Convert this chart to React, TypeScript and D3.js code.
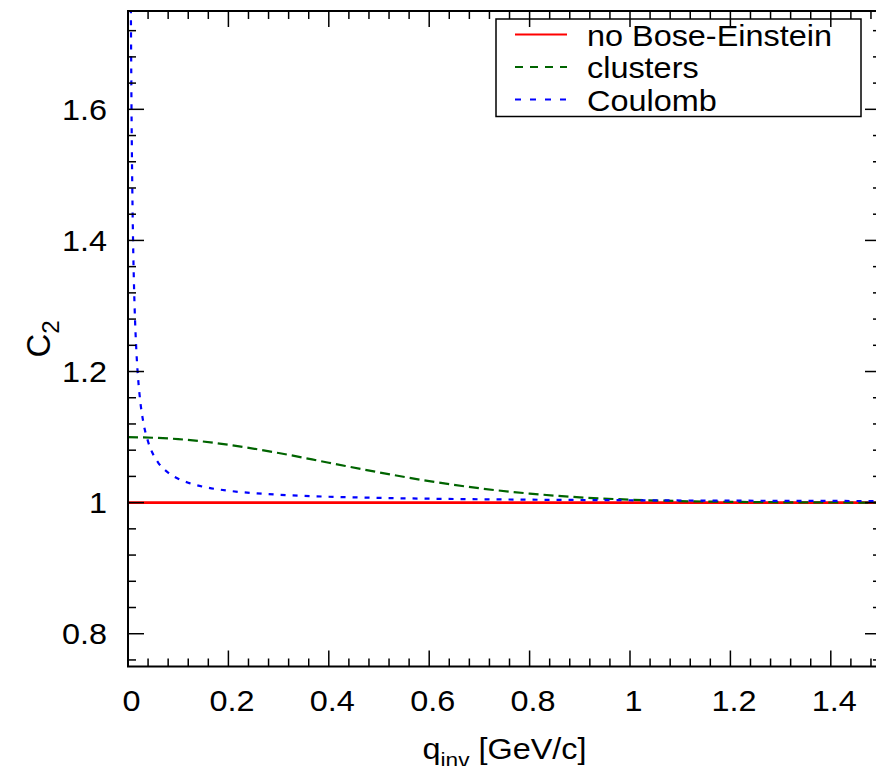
import React from 'react';
import * as d3 from 'd3';

const xTickValues = [0, 0.2, 0.4, 0.6, 0.8, 1.0, 1.2, 1.4];
const xTickLabels = ['0', '0.2', '0.4', '0.6', '0.8', '1', '1.2', '1.4'];
const yTickValues = [0.8, 1.0, 1.2, 1.4, 1.6];
const yTickLabels = ['0.8', '1', '1.2', '1.4', '1.6'];
const seriesNames = ['no Bose-Einstein', 'clusters', 'Coulomb'];

const noBEq = [0, 0.5, 1.0, 1.5];
const noBEc = [1, 1, 1, 1];

const clustersQ = [0, 0.1, 0.2, 0.3, 0.4, 0.5, 0.6, 0.7, 0.8, 0.9, 1.0, 1.1, 1.2, 1.3, 1.4, 1.5];
const clustersC = [1.1, 1.0969, 1.0883, 1.0757, 1.0609, 1.0461, 1.0328, 1.0219, 1.0138, 1.0081, 1.0045, 1.0023, 1.0012, 1.0005, 1.0002, 1.0001];

const coulombQ = [0.004, 0.005, 0.006, 0.007, 0.008, 0.009, 0.01, 0.012, 0.014, 0.016, 0.018, 0.02, 0.025, 0.03, 0.04, 0.05, 0.06, 0.08, 0.1, 0.12, 0.15, 0.2, 0.25, 0.3, 0.4, 0.5, 0.6, 0.8, 1.0, 1.2, 1.5];
const coulombC = [2.157, 1.887, 1.717, 1.601, 1.517, 1.453, 1.403, 1.33, 1.279, 1.242, 1.213, 1.191, 1.151, 1.125, 1.093, 1.0737, 1.0612, 1.0457, 1.0364, 1.0303, 1.0242, 1.0181, 1.0145, 1.012, 1.009, 1.0072, 1.006, 1.0045, 1.0036, 1.003, 1.0024];

const W = 876;
const H = 766;
const L = 128;
const R = 881;
const T = 11;
const B = 666.5;
const SX = 1.08;
const FS = 30;
const FONT = "'Liberation Sans', Arial, Helvetica, sans-serif";

export default function App() {
  const x = d3.scaleLinear().domain([0, 1.5]).range([L, R]);
  const y = d3.scaleLinear().domain([0.75, 1.75]).range([B, T]);
  const line = d3
    .line<[number, number]>()
    .x((d) => x(d[0]))
    .y((d) => y(d[1]))
    .curve(d3.curveMonotoneX);

  const redPts = noBEq.map((q, i) => [q, noBEc[i]] as [number, number]);
  const greenPts = clustersQ.map((q, i) => [q, clustersC[i]] as [number, number]);
  const bluePts = coulombQ.map((q, i) => [q, coulombC[i]] as [number, number]);

  const xMinor = d3.range(0, 38).map((i) => i * 0.04).filter((v) => v <= 1.5);
  const yMinor = d3.range(19, 44).map((i) => i * 0.04).filter((v) => v >= 0.75 && v <= 1.75);
  const isMajor = (v: number) => Math.abs(v / 0.2 - Math.round(v / 0.2)) < 1e-6;

  const styles = [
    { color: '#ff0000', dash: undefined as string | undefined },
    { color: '#006400', dash: '10,5' },
    { color: '#0000ff', dash: '5,7' },
  ];

  return (
    <div style={{ position: 'absolute', left: 0, top: 0 }}>
      <svg width={W} height={H} style={{ display: 'block', background: '#fff' }}>
        <defs>
          <clipPath id="plotclip">
            <rect x={L} y={T} width={R - L} height={B - T} />
          </clipPath>
        </defs>
        <rect x={0} y={0} width={W} height={H} fill="#fff" />

        <g clipPath="url(#plotclip)" fill="none">
          <path d={line(redPts) || ''} stroke={styles[0].color} strokeWidth={2.8} />
          <path d={line(greenPts) || ''} stroke={styles[1].color} strokeWidth={2.2} strokeDasharray={styles[1].dash} />
          <path d={line(bluePts) || ''} stroke={styles[2].color} strokeWidth={2.2} strokeDasharray={styles[2].dash} />
        </g>

        <g stroke="#000" strokeWidth={1.5}>
          {xMinor.map((v, i) => {
            const len = isMajor(v) ? 16 : 8;
            return (
              <g key={'xt' + i}>
                <line x1={x(v)} x2={x(v)} y1={B} y2={B - len} />
                <line x1={x(v)} x2={x(v)} y1={T} y2={T + len} />
              </g>
            );
          })}
          {yMinor.map((v, i) => {
            const len = isMajor(v) ? 16 : 8;
            return (
              <g key={'yt' + i}>
                <line x1={L} x2={L + len} y1={y(v)} y2={y(v)} />
                <line x1={R} x2={R - len} y1={y(v)} y2={y(v)} />
              </g>
            );
          })}
        </g>

        <rect x={L} y={T} width={R - L} height={B - T} fill="none" stroke="#000" strokeWidth={2} />

        <g fontFamily={FONT} fontSize={FS} fill="#000">
          {xTickValues.map((v, i) => (
            <text key={'xl' + i} transform={`translate(${x(v) + 3.5},711) scale(${SX},1)`} textAnchor="middle">
              {xTickLabels[i]}
            </text>
          ))}
          {yTickValues.map((v, i) => (
            <text key={'yl' + i} transform={`translate(107,${y(v) + 10.5}) scale(${SX},1)`} textAnchor="end">
              {yTickLabels[i]}
            </text>
          ))}
        </g>

        <g fontFamily={FONT} fill="#000">
          <text transform={`translate(${(L + R) / 2},759) scale(${SX},1)`} textAnchor="middle" fontSize={FS}>
            q<tspan fontSize={21} dy={8}>inv</tspan>
            <tspan dy={-8}> [GeV/c]</tspan>
          </text>
          <text transform={`translate(50,339) rotate(-90)`} textAnchor="middle" fontSize={33}>
            C<tspan fontSize={24} dy={9}>2</tspan>
          </text>
        </g>

        <rect x={496} y={19} width={365} height={97.5} fill="none" stroke="#000" strokeWidth={1.5} />
        <g fontFamily={FONT} fontSize={FS} fill="#000">
          {seriesNames.map((name, i) => {
            const base = 45.5 + i * 32.5;
            return (
              <g key={'lg' + i}>
                <line
                  x1={515}
                  x2={567}
                  y1={base - 11}
                  y2={base - 11}
                  stroke={styles[i].color}
                  strokeWidth={2}
                  strokeDasharray={i === 0 ? undefined : i === 1 ? '8,7' : '6,9'}
                />
                <text transform={`translate(587,${base}) scale(${SX},1)`}>{name}</text>
              </g>
            );
          })}
        </g>
      </svg>
    </div>
  );
}
